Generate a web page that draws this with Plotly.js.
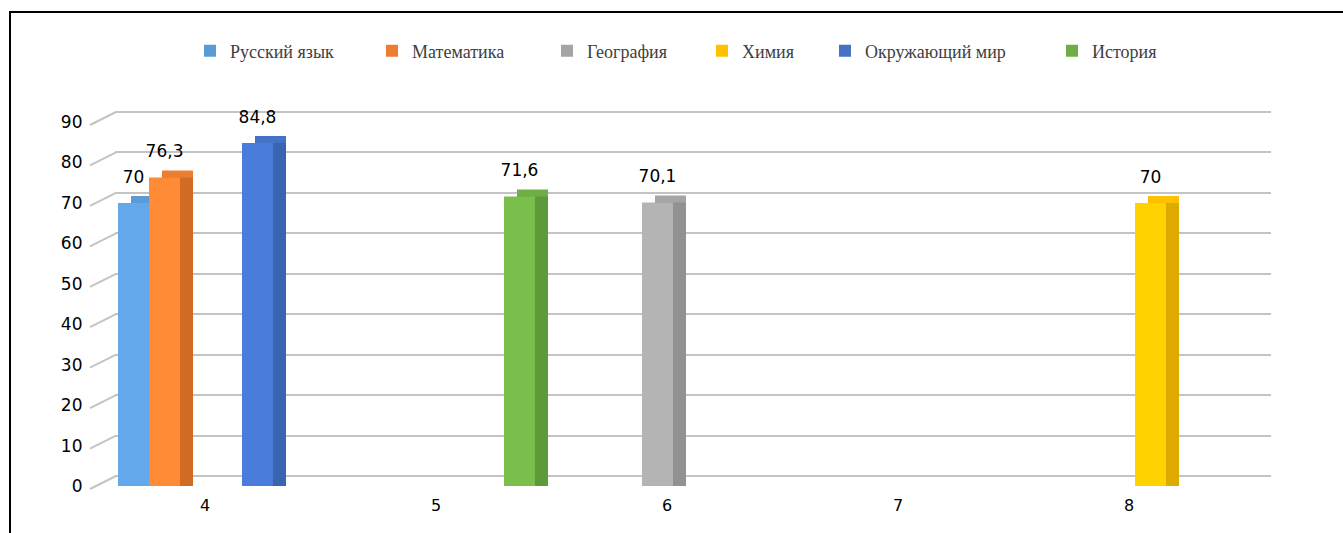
<!DOCTYPE html>
<html>
<head>
<meta charset="utf-8">
<script src="https://cdn.plot.ly/plotly-3.0.1.min.js"></script>
<style>
  html, body { margin: 0; padding: 0; background: #fff; }
  #wrap { position: relative; width: 1343px; height: 533px; overflow: hidden; }
  #chart { position: absolute; left: 0; top: 0; width: 1343px; height: 533px; }
  #frame { position: absolute; left: 9px; top: 11px; width: 1400px; height: 600px;
           border-left: 2px solid #000; border-top: 2px solid #000; pointer-events: none; }
</style>
</head>
<body>
<div id="wrap"><div id="chart"></div><div id="frame"></div></div>
<script>
// ---- data ----
const categories = ['4', '5', '6', '7', '8'];
const seriesNames = ['Русский язык', 'Математика', 'География', 'Химия', 'Окружающий мир', 'История'];
const russian   = [70,   null, null, null, null];
const math      = [76.3, null, null, null, null];
const geography = [null, null, 70.1, null, null];
const chemistry = [null, null, null, null, 70];
const world     = [84.8, null, null, null, null];
const history   = [null, 71.6, null, null, null];
const yTicks = [0, 10, 20, 30, 40, 50, 60, 70, 80, 90];

const seriesValues = [russian, math, geography, chemistry, world, history];

// ---- styles ----
const officeColors = ['#5B9BD5', '#ED7D31', '#A5A5A5', '#FFC000', '#4472C4', '#70AD47'];
const frontColors  = ['#63A8EA', '#FF8B36', '#B4B4B4', '#FFD200', '#4A7DDB', '#7ABF4C'];
const sideColors   = ['#4D8CC8', '#D26C24', '#929292', '#DEAA00', '#3A63B0', '#5E9A3A'];
const legendWidths = [137, 130, 110, 78, 182, 100];

// plot box in pixels
const box = { l: 85, r: 1285, t: 90, b: 490 };
function xd(a, b) { return [(a - box.l) / (box.r - box.l), (b - box.l) / (box.r - box.l)]; }
function yd(top, bottom) { return [(box.b - bottom) / (box.b - box.t), (box.b - top) / (box.b - box.t)]; }

const frontX = [95.5, 1250.5];
const frontY = [122, 486];
const depthX = 13, depthY = 7;
const gridX = [115, 1271];
const gridY = [112, 476];
const labelLift = 13;
const k = (gridY[1] - gridY[0]) / 90;

const fmt = v => (v === null ? '' : String(v).replace('.', ','));

const traces = [];
// grid subplot dummy
traces.push({ type: 'scatter', x: [categories[0]], y: [null], xaxis: 'x', yaxis: 'y',
  showlegend: false, hoverinfo: 'skip' });
// top faces (x2y2) - legend entries
seriesNames.forEach((n, i) => traces.push({ type: 'bar', name: n, x: categories, y: seriesValues[i],
  xaxis: 'x2', yaxis: 'y2', marker: { color: officeColors[i], line: { width: 0 } },
  showlegend: true, legendwidth: legendWidths[i], hoverinfo: 'skip' }));
// side faces (x3y3)
seriesNames.forEach((n, i) => traces.push({ type: 'bar', name: n, x: categories, y: seriesValues[i],
  xaxis: 'x3', yaxis: 'y3', marker: { color: sideColors[i], line: { width: 0 } },
  showlegend: false, hoverinfo: 'skip' }));
// front faces (x4y4)
seriesNames.forEach((n, i) => traces.push({ type: 'bar', name: n, x: categories, y: seriesValues[i],
  xaxis: 'x4', yaxis: 'y4', marker: { color: frontColors[i], line: { width: 0 } },
  showlegend: false, hovertemplate: n + ': %{y}<extra></extra>' }));
// value labels (x5y5)
seriesNames.forEach((n, i) => traces.push({ type: 'bar', name: n, x: categories, y: seriesValues[i],
  xaxis: 'x5', yaxis: 'y5', marker: { color: 'rgba(0,0,0,0)', line: { width: 0 } },
  text: seriesValues[i].map(fmt), textposition: 'outside', cliponaxis: false, constraintext: 'none',
  textfont: { family: 'DejaVu Sans', size: 17, color: '#000' },
  showlegend: false, hoverinfo: 'skip' }));

const hiddenX = (dom) => ({ domain: dom, range: [-0.5, 4.5], type: 'category', visible: false, fixedrange: true });
const hiddenY = (anchor, dom) => ({ anchor: anchor, domain: dom, range: [0, 90], visible: false, fixedrange: true });

// diagonal tick lines joining front tick labels to back wall grid lines
const shapes = yTicks.map(v => ({
  type: 'line', xref: 'paper', yref: 'paper',
  x0: xd(90, 90)[0], y0: yd(frontY[1] - v * k + 3, 0)[1],
  x1: xd(116, 116)[0], y1: yd(gridY[1] - v * k, 0)[1],
  line: { color: '#C4C4C4', width: 2 }, layer: 'below'
}));

const layout = {
  width: 1343, height: 533,
  margin: { l: box.l, r: 1343 - box.r, t: box.t, b: 533 - box.b, pad: 0 },
  paper_bgcolor: '#fff', plot_bgcolor: 'rgba(0,0,0,0)',
  barmode: 'group', bargap: 0.195, bargroupgap: 0,
  separators: ', ',
  showlegend: true,
  legend: { orientation: 'h', x: xd(190, 190)[0], xanchor: 'left', y: yd(51, 0)[1], yanchor: 'middle',
    font: { family: '"Liberation Serif", "Times New Roman", "DejaVu Serif", serif', size: 18, color: '#404040' },
    traceorder: 'normal', entrywidth: 130, entrywidthmode: 'pixels', bgcolor: 'rgba(0,0,0,0)' },
  xaxis: hiddenX(xd(gridX[0], gridX[1])),
  yaxis: { anchor: 'x', domain: yd(gridY[0] - 0.5 * k, gridY[1] + 0.5 * k), range: [-0.5, 90.5],
    tickvals: yTicks, showgrid: true, gridcolor: '#C4C4C4', gridwidth: 2,
    showticklabels: false, ticks: '', zeroline: false, showline: false, fixedrange: true },
  xaxis2: Object.assign(hiddenX(xd(frontX[0] + depthX, frontX[1] + depthX)), { anchor: 'y2' }),
  yaxis2: hiddenY('x2', yd(frontY[0] - depthY, frontY[1] - depthY)),
  xaxis3: Object.assign(hiddenX(xd(frontX[0] + depthX, frontX[1] + depthX)), { anchor: 'y3' }),
  yaxis3: hiddenY('x3', yd(frontY[0], frontY[1])),
  xaxis4: { anchor: 'y4', domain: xd(frontX[0], frontX[1]), range: [-0.5, 4.5], type: 'category',
    showgrid: false, zeroline: false, showline: false, ticks: '',
    tickfont: { family: 'DejaVu Sans', size: 16, color: '#000' },
    ticklabelshift: -6, ticklabelstandoff: 8, fixedrange: true },
  yaxis4: { anchor: 'x4', domain: yd(frontY[0], frontY[1]), range: [0, 90], tickvals: yTicks,
    showgrid: false, zeroline: false, showline: false, ticks: '',
    tickfont: { family: 'DejaVu Sans', size: 17, color: '#000' },
    ticklabelstandoff: 12, fixedrange: true },
  xaxis5: Object.assign(hiddenX(xd(frontX[0], frontX[1])), { anchor: 'y5' }),
  yaxis5: hiddenY('x5', yd(frontY[0] - labelLift, frontY[1] - labelLift)),
  shapes: shapes
};

Plotly.newPlot('chart', traces, layout, { displayModeBar: false, staticPlot: false, responsive: false });
</script>
</body>
</html>
